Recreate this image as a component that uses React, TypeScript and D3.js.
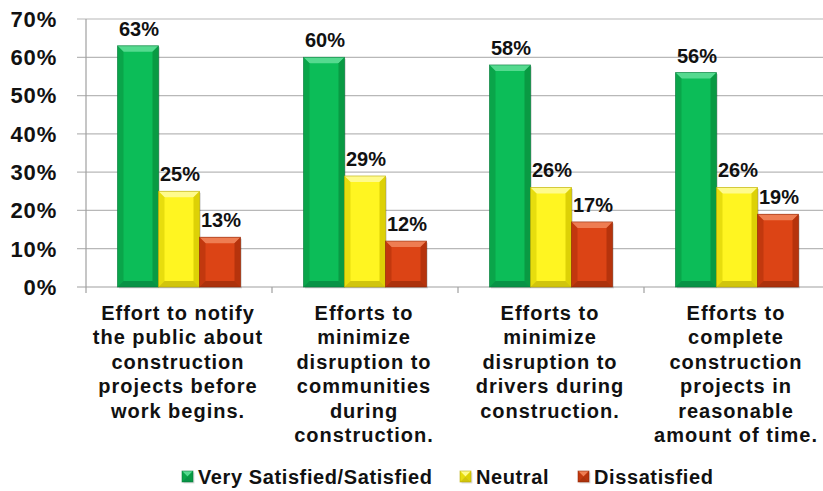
import React from "react";
import * as d3 from "d3";

const categories = [
  ["Effort to notify", "the public about", "construction", "projects before", "work begins."],
  ["Efforts to", "minimize", "disruption to", "communities", "during", "construction."],
  ["Efforts to", "minimize", "disruption to", "drivers during", "construction."],
  ["Efforts to", "complete", "construction", "projects in", "reasonable", "amount of time."],
];
const seriesNames = ["Very Satisfied/Satisfied", "Neutral", "Dissatisfied"];
const satisfied = [63, 60, 58, 56];
const neutral = [25, 29, 26, 26];
const dissatisfied = [13, 12, 17, 19];
const yTicks = [0, 10, 20, 30, 40, 50, 60, 70];

const palettes = [
  { base: "#0cbd58", top: "#55da8f", side: "#09913f", bottom: "#07763a" },
  { base: "#fff521", top: "#fffb8c", side: "#d4c800", bottom: "#b3a500" },
  { base: "#dc4415", top: "#ee7d52", side: "#ad300a", bottom: "#8c2606" },
];

const FONT = "Arial, 'Liberation Sans', sans-serif";

function Bar({ x, y, w, h, p }: { x: number; y: number; w: number; h: number; p: any }) {
  const b = Math.min(6, h / 2);
  return (
    <g>
      <rect x={x + 1.5} y={y + 1.5} width={w} height={h} fill="#000" opacity={0.12} />
      <rect x={x} y={y} width={w} height={h} fill={p.base} />
      <polygon points={`${x},${y} ${x + w},${y} ${x + w - b},${y + b} ${x + b},${y + b}`} fill={p.top} />
      <polygon points={`${x},${y} ${x + b},${y + b} ${x + b},${y + h - b} ${x},${y + h}`} fill={p.side} opacity={0.55} />
      <polygon points={`${x + w},${y} ${x + w - b},${y + b} ${x + w - b},${y + h - b} ${x + w},${y + h}`} fill={p.side} opacity={0.8} />
      <polygon points={`${x},${y + h} ${x + b},${y + h - b} ${x + w - b},${y + h - b} ${x + w},${y + h}`} fill={p.bottom} opacity={0.6} />
      <rect x={x} y={y} width={w} height={h} fill="none" stroke={p.bottom} strokeWidth={0.8} opacity={0.7} />
    </g>
  );
}

export default function App() {
  const width = 823;
  const height = 491;
  const left = 86;
  const bottom = 287;
  const top = 19;
  const step = 186;
  const x0 = d3
    .scaleBand<number>()
    .domain(d3.range(categories.length))
    .range([left, left + step * categories.length])
    .padding(0);
  const groupW = 123;
  const x1 = d3
    .scaleBand<number>()
    .domain([0, 1, 2])
    .range([0, groupW])
    .padding(0);
  const y = d3.scaleLinear().domain([0, 70]).range([bottom, top]);
  const series = [satisfied, neutral, dissatisfied];

  const legendItems = [
    { sx: 182, tx: 198 },
    { sx: 460, tx: 476 },
    { sx: 578, tx: 594 },
  ];

  return (
    <svg width={width} height={height} style={{ position: "absolute", left: 0, top: 0, background: "#fff" }}>
      {/* gridlines */}
      {yTicks.map((t) => (
        <line key={t} x1={77} x2={width} y1={y(t)} y2={y(t)} stroke={t === 0 ? "#a0a0a0" : "#b8b8b8"} strokeWidth={1.2} />
      ))}
      {/* y axis */}
      <line x1={left} x2={left} y1={top} y2={bottom + 6} stroke="#a0a0a0" strokeWidth={1.2} />
      {d3.range(1, categories.length + 1).map((i) => (
        <line key={i} x1={left + step * i} x2={left + step * i} y1={bottom} y2={bottom + 6} stroke="#a0a0a0" strokeWidth={1.2} />
      ))}
      {yTicks.map((t) => (
        <text key={t} x={57} y={y(t)} dy="0.36em" textAnchor="end" fontFamily={FONT} fontWeight="bold" fontSize={22} letterSpacing={0.8} fill="#111">
          {t}%
        </text>
      ))}
      {/* bars */}
      {categories.map((_, ci) => {
        const gx = (x0(ci) as number) + (step - groupW) / 2;
        return (
          <g key={ci}>
            {series.map((s, si) => {
              const bx = gx + (x1(si) as number);
              const bw = x1.bandwidth();
              const by = y(s[ci]);
              return <Bar key={si} x={bx} y={by} w={bw} h={bottom - by} p={palettes[si]} />;
            })}
            {series.map((s, si) => {
              const bx = gx + (x1(si) as number);
              const bw = x1.bandwidth();
              return (
                <text key={"l" + si} x={bx + bw / 2 + 1} y={y(s[ci]) - 10} textAnchor="middle" fontFamily={FONT} fontWeight="bold" fontSize={20} fill="#111">
                  {s[ci]}%
                </text>
              );
            })}
            {categories[ci].map((line, li) => (
              <text key={"c" + li} x={(x0(ci) as number) + step / 2 - 1} y={320 + li * 24.4} textAnchor="middle" fontFamily={FONT} fontWeight="bold" fontSize={20} letterSpacing={1} fill="#111">
                {line}
              </text>
            ))}
          </g>
        );
      })}
      {/* legend */}
      {seriesNames.map((n, i) => (
        <g key={n}>
          <Bar x={legendItems[i].sx} y={471} w={11} h={11} p={palettes[i]} />
          <text x={legendItems[i].tx} y={484} fontFamily={FONT} fontWeight="bold" fontSize={20} letterSpacing={0.6} fill="#111">
            {n}
          </text>
        </g>
      ))}
    </svg>
  );
}
